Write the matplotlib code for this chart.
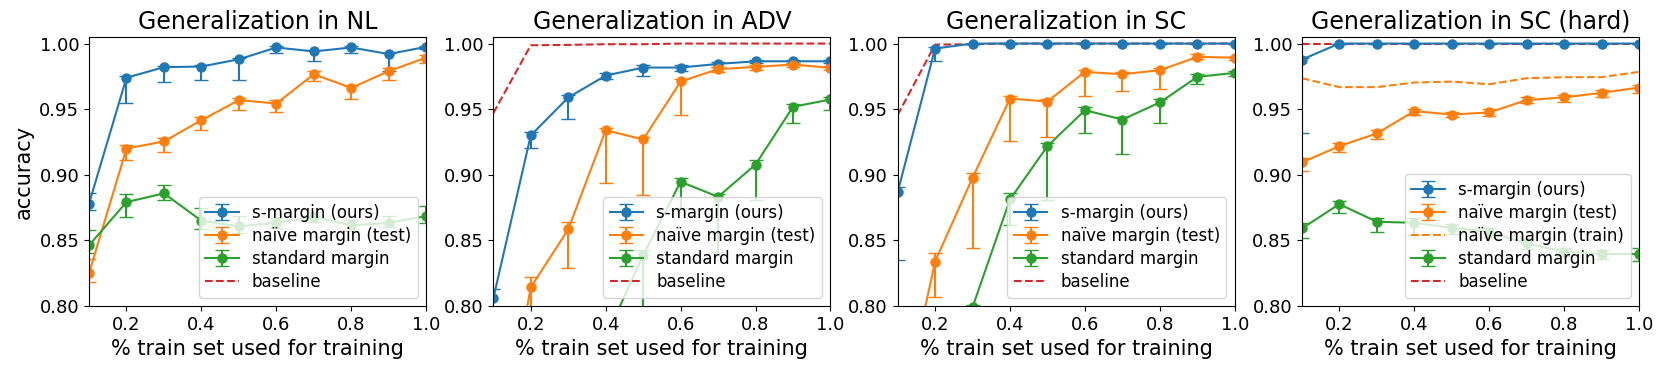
import matplotlib
matplotlib.use("Agg")
import matplotlib.pyplot as plt
import numpy as np

x = [0.1, 0.2, 0.3, 0.4, 0.5, 0.6, 0.7, 0.8, 0.9, 1.0]

titles = ["Generalization in NL", "Generalization in ADV", "Generalization in SC", "Generalization in SC (hard)"]

# ---- NL ----
nl_s = [0.878, 0.974, 0.982, 0.9825, 0.988, 0.997, 0.994, 0.997, 0.992, 0.9975]
nl_s_elo = [0.005, 0.019, 0.0115, 0.0105, 0.016, 0.004, 0.007, 0.004, 0.013, 0.0015]
nl_s_ehi = [0.008, 0.001, 0.001, 0.001, 0.001, 0.001, 0.001, 0.001, 0.001, 0.001]
nl_n = [0.825, 0.920, 0.9254, 0.9416, 0.9569, 0.9543, 0.9766, 0.9662, 0.979, 0.9893]
nl_n_elo = [0.0065, 0.009, 0.0084, 0.0071, 0.0072, 0.0068, 0.0053, 0.0082, 0.0064, 0.004]
nl_n_ehi = [0.0105, 0.0026, 0.003, 0.0024, 0.0017, 0.0027, 0.0024, 0.0018, 0.0025, 0.002]
nl_m = [0.8462, 0.8792, 0.8858, 0.865, 0.8607, 0.8634, 0.868, 0.8614, 0.8634, 0.8685]
nl_m_elo = [0.0056, 0.0117, 0.0051, 0.006, 0.005, 0.004, 0.004, 0.004, 0.003, 0.005]
nl_m_ehi = [0.0117, 0.0058, 0.0061, 0.01, 0.0078, 0.004, 0.004, 0.004, 0.005, 0.0079]
nl_b = [0.75, 0.76, 0.76, 0.77, 0.77, 0.77, 0.78, 0.78, 0.78, 0.78]

# ---- ADV ----
adv_s = [0.8058, 0.930, 0.9589, 0.9756, 0.9817, 0.9817, 0.9845, 0.9865, 0.9865, 0.9865]
adv_s_elo = [0.01, 0.0097, 0.0165, 0.0026, 0.0061, 0.0027, 0.002, 0.0015, 0.0015, 0.0015]
adv_s_ehi = [0.0069, 0.0027, 0.0018, 0.0021, 0.0023, 0.0023, 0.0015, 0.001, 0.001, 0.001]
adv_n = [0.66, 0.8142, 0.8584, 0.934, 0.9269, 0.9711, 0.9805, 0.9822, 0.984, 0.9815]
adv_n_elo = [0.01, 0.035, 0.0294, 0.0406, 0.0426, 0.0259, 0.0025, 0.0025, 0.002, 0.002]
adv_n_ehi = [0.01, 0.0076, 0.0053, 0.0018, 0.0021, 0.0019, 0.0015, 0.0015, 0.0015, 0.0015]
adv_m = [0.62, 0.68, 0.73, 0.776, 0.8388, 0.8947, 0.8832, 0.9078, 0.9518, 0.9574]
adv_m_elo = [0.01, 0.01, 0.01, 0.01, 0.05, 0.0203, 0.0418, 0.0271, 0.012, 0.0077]
adv_m_ehi = [0.01, 0.01, 0.01, 0.005, 0.0042, 0.003, 0.002, 0.0034, 0.002, 0.002]
adv_b = [0.947, 0.9987, 0.999, 0.9995, 0.9995, 1.0, 1.0, 1.0, 1.0, 1.0]

# ---- SC ----
sc_s = [0.8865, 0.9962, 1.0, 1.0, 1.0, 1.0, 1.0, 1.0, 1.0, 1.0]
sc_s_elo = [0.0517, 0.0092, 0, 0, 0, 0, 0, 0, 0, 0]
sc_s_ehi = [0.0044, 0.0008, 0, 0, 0, 0, 0, 0, 0, 0]
sc_n = [0.702, 0.8338, 0.8977, 0.9581, 0.9558, 0.9784, 0.9766, 0.9797, 0.9898, 0.9893]
sc_n_elo = [0.01, 0.0269, 0.0538, 0.0327, 0.0269, 0.0182, 0.0124, 0.014, 0.0015, 0.0015]
sc_n_ehi = [0.01, 0.0068, 0.0038, 0.0019, 0.0016, 0.0018, 0.0021, 0.002, 0.002, 0.0005]
sc_m = [0.6, 0.7, 0.799, 0.8812, 0.9218, 0.9492, 0.9421, 0.9551, 0.9746, 0.9777]
sc_m_elo = [0.01, 0.01, 0.005, 0.0198, 0.0411, 0.0177, 0.0259, 0.0153, 0.0056, 0.0025]
sc_m_ehi = [0.01, 0.01, 0.0017, 0.0051, 0.0026, 0.0021, 0.0021, 0.0023, 0.002, 0.0015]
sc_b = [0.9454, 0.9992, 0.9995, 1.0, 1.0, 1.0, 1.0, 1.0, 1.0, 1.0]

# ---- SC (hard) ----
hd_s = [0.9878, 1.0, 1.0, 1.0, 1.0, 1.0, 1.0, 1.0, 1.0, 1.0]
hd_s_elo = [0.0558, 0, 0, 0, 0, 0, 0, 0, 0, 0]
hd_s_ehi = [0.001, 0, 0, 0, 0, 0, 0, 0, 0, 0]
hd_n = [0.9094, 0.9218, 0.9315, 0.9485, 0.9459, 0.9475, 0.9569, 0.959, 0.9624, 0.9665]
hd_n_elo = [0.0066, 0.0045, 0.0046, 0.0031, 0.0022, 0.003, 0.002, 0.0038, 0.0035, 0.0045]
hd_n_ehi = [0.0035, 0.0026, 0.0025, 0.0018, 0.002, 0.0023, 0.002, 0.0018, 0.002, 0.0018]
hd_train = [0.9736, 0.9668, 0.9668, 0.9703, 0.971, 0.969, 0.9736, 0.9744, 0.9744, 0.9784]
hd_m = [0.8591, 0.8776, 0.8642, 0.8634, 0.8596, 0.8566, 0.8477, 0.8414, 0.8396, 0.8396]
hd_m_elo = [0.0071, 0.0066, 0.0076, 0.009, 0.005, 0.004, 0.004, 0.003, 0.004, 0.0051]
hd_m_ehi = [0.0039, 0.0024, 0.0026, 0.0033, 0.003, 0.003, 0.003, 0.003, 0.003, 0.0043]
hd_b = [1.0, 1.0, 1.0, 1.0, 1.0, 1.0, 1.0, 1.0, 1.0, 1.0]

panels = [
    dict(s=(nl_s, nl_s_elo, nl_s_ehi), n=(nl_n, nl_n_elo, nl_n_ehi), m=(nl_m, nl_m_elo, nl_m_ehi), b=nl_b, train=None),
    dict(s=(adv_s, adv_s_elo, adv_s_ehi), n=(adv_n, adv_n_elo, adv_n_ehi), m=(adv_m, adv_m_elo, adv_m_ehi), b=adv_b, train=None),
    dict(s=(sc_s, sc_s_elo, sc_s_ehi), n=(sc_n, sc_n_elo, sc_n_ehi), m=(sc_m, sc_m_elo, sc_m_ehi), b=sc_b, train=None),
    dict(s=(hd_s, hd_s_elo, hd_s_ehi), n=(hd_n, hd_n_elo, hd_n_ehi), m=(hd_m, hd_m_elo, hd_m_ehi), b=hd_b, train=hd_train),
]

fig, axes = plt.subplots(1, 4, figsize=(16.64, 3.70), dpi=100)
fig.subplots_adjust(left=0.0535, right=0.985, bottom=0.173, top=0.9, wspace=0.199)

ekw = dict(marker='o', capsize=5, lw=1.5, ms=6.5)
for ax, p, t in zip(axes, panels, titles):
    hb, = ax.plot(x, p['b'], '--', color='C3', lw=1.5, label='baseline')
    v, lo, hi = p['s']
    hs = ax.errorbar(x, v, yerr=[lo, hi], color='C0', label='s-margin (ours)', **ekw)
    v, lo, hi = p['n']
    hn = ax.errorbar(x, v, yerr=[lo, hi], color='C1', label='naïve margin (test)', **ekw)
    handles = [hs, hn]
    if p['train'] is not None:
        ht, = ax.plot(x, p['train'], '--', color='C1', lw=1.5, label='naïve margin (train)')
        handles.append(ht)
    v, lo, hi = p['m']
    hm = ax.errorbar(x, v, yerr=[lo, hi], color='C2', label='standard margin', **ekw)
    handles += [hm, hb]
    ax.set_xlim(0.1, 1.0)
    ax.set_ylim(0.8, 1.005)
    ax.set_xticks([0.2, 0.4, 0.6, 0.8, 1.0])
    ax.set_yticks([0.80, 0.85, 0.90, 0.95, 1.00])
    ax.tick_params(labelsize=13)
    ax.set_title(t, fontsize=17)
    ax.set_xlabel('% train set used for training', fontsize=15)
    ax.legend(handles=handles, loc='lower right', fontsize=12, labelspacing=0.3)

axes[0].set_ylabel('accuracy', fontsize=15)

fig.savefig('out.png', dpi=100)
